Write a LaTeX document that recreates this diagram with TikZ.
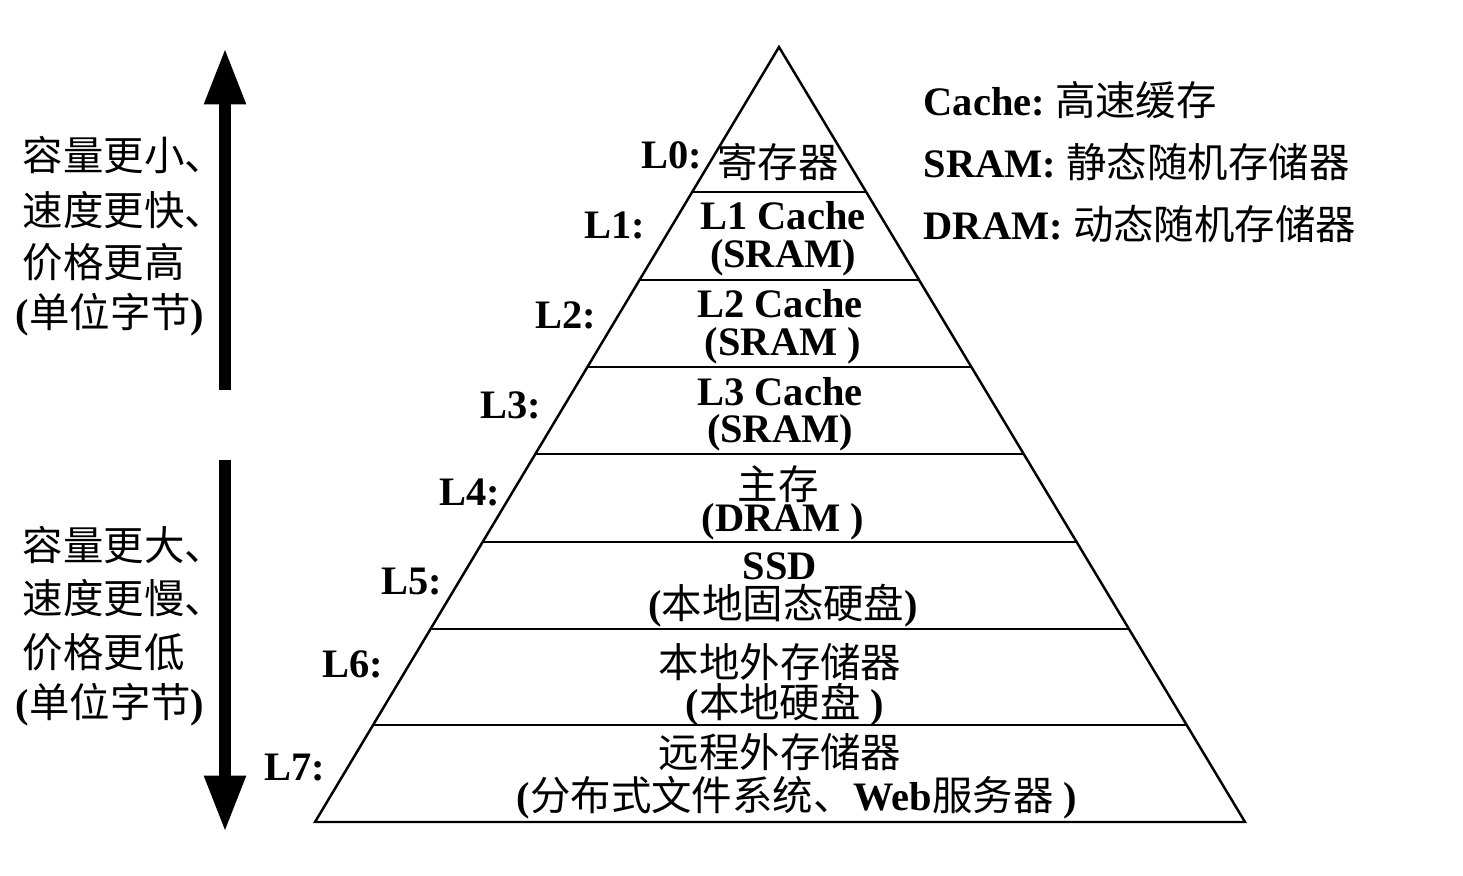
\documentclass[tikz,border=0pt]{standalone}
\usepackage{fontspec}
\setmainfont{Liberation Serif}
\newfontfamily\cjk{Noto Sans CJK SC}
\usetikzlibrary{arrows.meta}
\begin{document}
\begin{tikzpicture}[x=0.01cm,y=-0.01cm,
  t/.style={font=\fontsize{11.5pt}{12pt}\selectfont\bfseries, inner sep=0pt},
  lbl/.style={t},
  big/.style={line width=3.4pt,-{Triangle[length=16pt,width=11pt]}}]
\useasboundingbox (0,0) rectangle (1463,875);
\newcommand\zh[1]{{\cjk\mdseries #1}}
\coordinate (apex) at (779,47);
\coordinate (bl) at (315,822);
\coordinate (br) at (1245,822);
\draw[line width=0.7pt] (apex) -- (bl) -- (br) -- cycle;
\foreach \y in {192,280,367,454,542,629,725}{
  \pgfmathsetmacro\dx{(\y-47)*0.6}
  \draw[line width=0.7pt] (779-\dx,\y) -- (779+\dx,\y);
}
\node[lbl] (l0) at (672,155) {L0:};
\node[t] (c0) at (778,162) {\zh{寄存器}};
\node[lbl] (l1) at (615,225) {L1:};
\node[t] (c1a) at (783,216) {L1 Cache};
\node[t] (c1b) at (783,258) {(SRAM)};
\node[lbl] (l2) at (566,315) {L2:};
\node[t] (c2a) at (780,304) {L2 Cache};
\node[t] (c2b) at (783,346) {(SRAM )};
\node[lbl] (l3) at (511,405) {L3:};
\node[t] (c3a) at (780,392) {L3 Cache};
\node[t] (c3b) at (780,433) {(SRAM)};
\node[lbl] (l4) at (470,492) {L4:};
\node[t] (c4a) at (778,484) {\zh{主存}};
\node[t] (c4b) at (783,522) {(DRAM )};
\node[lbl] (l5) at (412,582) {L5:};
\node[t] (c5a) at (780,566) {SSD};
\node[t] (c5b) at (783,606) {(\zh{本地固态硬盘})};
\node[lbl] (l6) at (353,664) {L6:};
\node[t] (c6a) at (780,662) {\zh{本地外存储器}};
\node[t] (c6b) at (785,705) {(\zh{本地硬盘} )};
\node[lbl] (l7) at (295,768) {L7:};
\node[t] (c7a) at (780,752) {\zh{远程外存储器}};
\node[t] (c7b) at (797,798) {(\zh{分布式文件系统、}Web\zh{服务器} )};
\node[t,anchor=west] (a1) at (22,155) {\zh{容量更小、}};
\node[t,anchor=west] (a2) at (22,210) {\zh{速度更快、}};
\node[t,anchor=west] (a3) at (22,262) {\zh{价格更高}};
\node[t,anchor=west] (a4) at (15,315) {(\zh{单位字节})};
\node[t,anchor=west] (b1) at (22,545) {\zh{容量更大、}};
\node[t,anchor=west] (b2) at (22,598) {\zh{速度更慢、}};
\node[t,anchor=west] (b3) at (22,652) {\zh{价格更低}};
\node[t,anchor=west] (b4) at (15,705) {(\zh{单位字节})};
\node[t,anchor=west] (g1) at (923,100) {Cache:\ \zh{高速缓存}};
\node[t,anchor=west] (g2) at (923,162) {SRAM: \zh{静态随机存储器}};
\node[t,anchor=west] (g3) at (923,224) {DRAM: \zh{动态随机存储器}};
\coordinate (u1) at (225,390); \coordinate (u2) at (225,48);
\coordinate (d1) at (225,460); \coordinate (d2) at (225,832);
\draw[big] (u1) -- (u2);
\draw[big] (d1) -- (d2);
\end{tikzpicture}
\end{document}
